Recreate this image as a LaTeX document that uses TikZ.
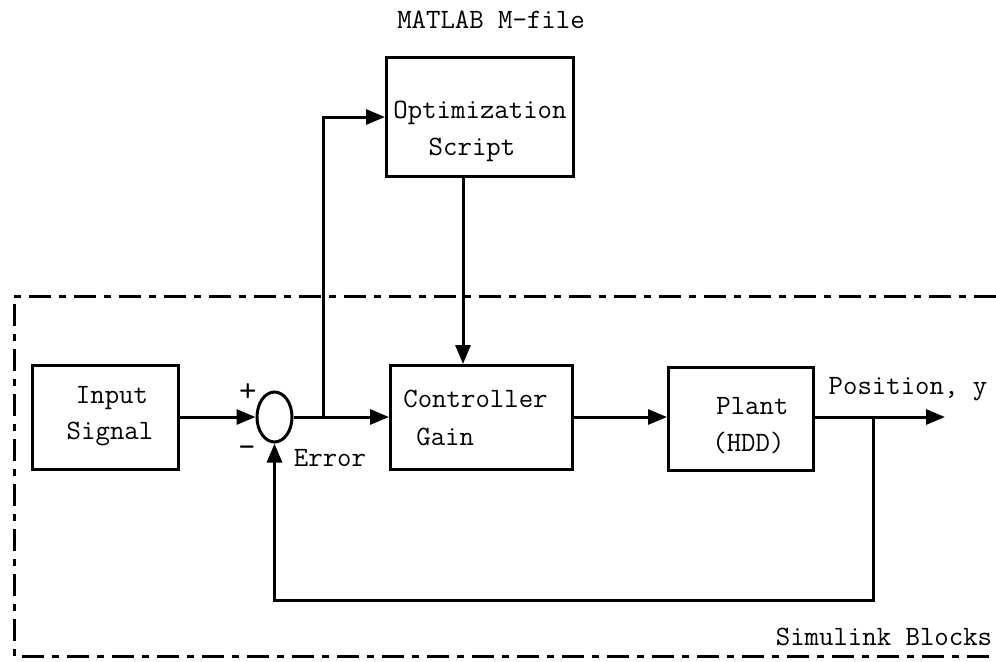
\documentclass[tikz,border=0pt]{standalone}
\usetikzlibrary{arrows.meta,shapes.geometric}
\begin{document}
\begin{tikzpicture}[x=0.5pt,y=-0.5pt,
  lw/.style={line width=1.5pt},
  blk/.style={draw,lw,rectangle,inner sep=0pt,anchor=north west},
  txt/.style={font=\fontsize{14}{19}\selectfont\ttfamily,inner sep=0pt},
  arr/.style={lw,-{Triangle[length=9.5pt,width=7.5pt]}},
  bound/.style={lw,dash pattern=on 11pt off 4pt on 3.5pt off 4pt}]
\useasboundingbox (0,0) rectangle (996,661);
% outer dash-dot boundary
\draw[bound] (996,296) -- (14,296) -- (14,656) -- (996,656);
% blocks
\node[blk,minimum width=73pt,minimum height=52pt] (in) at (31,364) {};
\node[blk,minimum width=93.5pt,minimum height=59.5pt] (opt) at (385,56) {};
\node[blk,minimum width=91pt,minimum height=52pt] (ctrl) at (389,364) {};
\node[blk,minimum width=72.5pt,minimum height=51.5pt] (plant) at (667,366) {};
\node[draw,lw,ellipse,minimum width=17.5pt,minimum height=25pt,inner sep=0pt] (sum) at (274.5,417) {};
% texts
\node[txt] (tIn1) at (112,398) {Input};
\node[txt] (tIn2) at (110,434) {Signal};
\node[txt] (tOpt1) at (480,113) {Optimization};
\node[txt] (tOpt2) at (472,150) {Script};
\node[txt,anchor=west] (tC1) at (403,399) {Controller};
\node[txt,anchor=west] (tC2) at (416,437) {Gain};
\node[txt,anchor=west] (tP1) at (716,406) {Plant};
\node[txt,anchor=west] (tP2) at (712,443) {(HDD)};
\node[txt] (tMat) at (491,20) {MATLAB M-file};
\node[txt] (tSim) at (884,637) {Simulink Blocks};
\node[txt] (tPos) at (908,389) {Position, y};
\node[txt] (tErr) at (330,458) {Error};
\node[txt,font=\fontsize{17}{19}\selectfont\ttfamily] (tPlus) at (248,393) {+};
\node[txt,font=\fontsize{17}{19}\selectfont\ttfamily] (tMinus) at (247,452) {-};
% coordinates
\coordinate (br1) at (323,417);
\coordinate (up1) at (323,117);
\coordinate (dn) at (463,175);
\coordinate (br2) at (873,417);
\coordinate (out) at (945,417);
\coordinate (lb) at (873,600);
\coordinate (lc) at (274.5,600);
% connectors
\draw[arr] (in.east |- sum.west) -- (sum.west);
\draw[arr] (sum.east) -- (ctrl.west |- sum.east);
\draw[arr] (br1) -- (up1) -- (opt.west |- up1);
\draw[arr] (dn) -- (dn |- ctrl.north);
\draw[arr] (ctrl.east |- sum.east) -- (plant.west |- sum.east);
\draw[arr] (plant.east |- out) -- (out);
\draw[arr] (br2) -- (lb) -- (lc) -- (sum.south);
\end{tikzpicture}
\end{document}
